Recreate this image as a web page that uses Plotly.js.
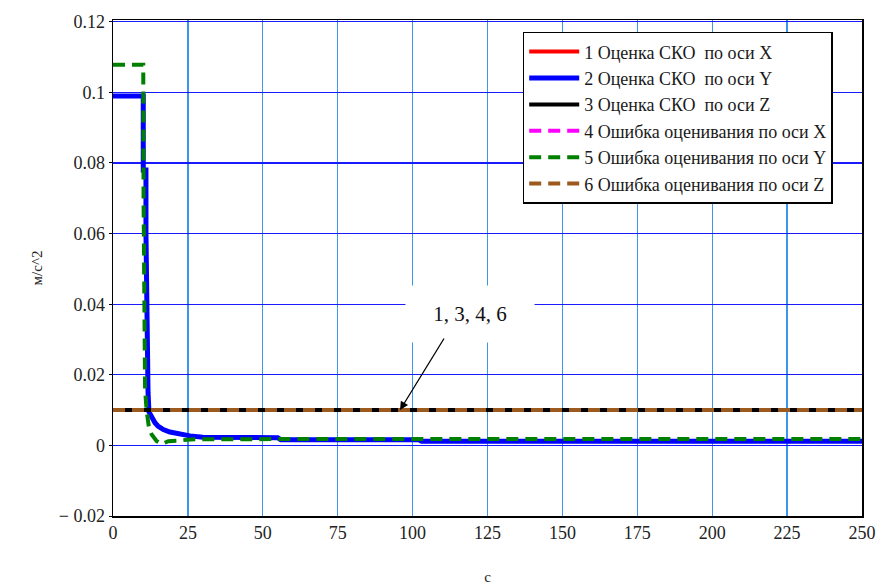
<!DOCTYPE html>
<html>
<head>
<meta charset="utf-8">
<script src="https://cdn.plot.ly/plotly-3.0.1.min.js"></script>
<style>
  html, body { margin: 0; padding: 0; background: #ffffff; }
  #chart { width: 891px; height: 587px; }
</style>
</head>
<body>
<div id="chart"></div>
<script>
// Time axis, seconds
const tFull = [0, 250];

// 1, 3, 4, 6: estimates and errors along X and Z (constant level)
const skoX = [0.01, 0.01];
const skoZ = [0.01, 0.01];
const errX = [0.01, 0.01];
const errZ = [0.01, 0.01];

// 2: RMS estimate along Y
const tSkoY = [0, 10.1, 10.1, 11, 11, 11.3, 11.7, 12, 13, 14, 15, 16.8, 19, 21.3, 25.7, 30, 40, 55, 56, 102, 103, 250];
const skoY  = [0.099, 0.099, 0.078, 0.078, 0.06, 0.03, 0.015, 0.0095, 0.0075, 0.0064, 0.0055, 0.0045, 0.0038, 0.0034, 0.0027, 0.0023, 0.0022, 0.0022, 0.0016, 0.0016, 0.0012, 0.0012];

// 5: estimation error along Y
const tErrY = [0, 10.1, 10.2, 10.5, 10.7, 11.2, 11.5, 12, 12.9, 14.6, 16.3, 18.5, 22.4, 26, 60, 250];
const errY  = [0.1078, 0.1078, 0.07, 0.03, 0.016, 0.0101, 0.007, 0.005, 0.0031, 0.0012, 0.0004, 0.0012, 0.0014, 0.0017, 0.0018, 0.0018];

const seriesNames = [
  '1 Оценка СКО\u00a0 по оси X',
  '2 Оценка СКО\u00a0 по оси Y',
  '3 Оценка СКО\u00a0 по оси Z',
  '4 Ошибка оценивания по оси X',
  '5 Ошибка оценивания по оси Y',
  '6 Ошибка оценивания по оси Z'
];

const xTicks = [0, 25, 50, 75, 100, 125, 150, 175, 200, 225, 250];
const yTicks = [-0.02, 0, 0.02, 0.04, 0.06, 0.08, 0.1, 0.12];
const yTickText = ['\u2212 0.02', '0', '0.02', '0.04', '0.06', '0.08', '0.1', '0.12'];

const serif = 'Liberation Serif, Times New Roman, serif';
const dashPattern = '12px,7px';

const traces = [
  { x: tFull, y: skoX, name: seriesNames[0], mode: 'lines', line: { color: '#ff0000', width: 4 } },
  { x: tSkoY, y: skoY, name: seriesNames[1], mode: 'lines', line: { color: '#0000ff', width: 5 } },
  { x: tFull, y: skoZ, name: seriesNames[2], mode: 'lines', line: { color: '#000000', width: 4 } },
  { x: tFull, y: errX, name: seriesNames[3], mode: 'lines', line: { color: '#ff00ff', width: 4, dash: dashPattern } },
  { x: tErrY, y: errY, name: seriesNames[4], mode: 'lines', line: { color: '#008000', width: 4, dash: dashPattern } },
  { x: tFull, y: errZ, name: seriesNames[5], mode: 'lines', line: { color: '#9c5a1e', width: 4, dash: dashPattern } }
];

const layout = {
  width: 891,
  height: 587,
  margin: { l: 113, r: 29, t: 20, b: 71 },
  paper_bgcolor: '#ffffff',
  plot_bgcolor: '#ffffff',
  font: { family: serif, size: 18, color: '#222222' },
  showlegend: true,
  legend: {
    x: 0.547, y: 0.976, xanchor: 'left', yanchor: 'top',
    bgcolor: '#ffffff', bordercolor: '#000000', borderwidth: 1.5,
    font: { family: serif, size: 18, color: '#1a1a1a' },
    itemwidth: 50,
    tracegroupgap: 0
  },
  xaxis: {
    range: [0, 250],
    tickvals: xTicks,
    ticktext: xTicks.map(String),
    showgrid: true,
    gridcolor: '#3c96f0',
    gridwidth: 1.2,
    zeroline: false,
    showline: true,
    linecolor: '#000000',
    linewidth: 1.5,
    mirror: true,
    ticks: '',
    tickfont: { family: serif, size: 18, color: '#222222' },
    title: { text: 'с', font: { family: serif, size: 15, color: '#222222' }, standoff: 29 }
  },
  yaxis: {
    range: [-0.02, 0.1205],
    tickvals: yTicks,
    ticktext: yTickText,
    showgrid: true,
    gridcolor: '#1a1aff',
    gridwidth: 1.2,
    zeroline: false,
    showline: true,
    linecolor: '#000000',
    linewidth: 1.5,
    mirror: true,
    ticks: 'outside',
    ticklen: 3,
    tickcolor: '#000000',
    tickfont: { family: serif, size: 18, color: '#222222' },
    title: { text: 'м/с^2', font: { family: serif, size: 15, color: '#222222' }, standoff: 12 }
  },
  annotations: [
    {
      x: 119, y: 0.0372, xref: 'x', yref: 'y',
      text: '1, 3, 4, 6',
      showarrow: false,
      bgcolor: '#ffffff',
      width: 126, height: 54,
      font: { family: serif, size: 21, color: '#111111' }
    },
    {
      x: 95.8, y: 0.01, xref: 'x', yref: 'y',
      ax: 110.8, ay: 0.0307, axref: 'x', ayref: 'y',
      text: '',
      showarrow: true,
      arrowhead: 2,
      arrowsize: 1.3,
      arrowwidth: 1.3,
      arrowcolor: '#000000'
    }
  ]
};

Plotly.newPlot('chart', traces, layout, { staticPlot: true, displayModeBar: false });
</script>
</body>
</html>
